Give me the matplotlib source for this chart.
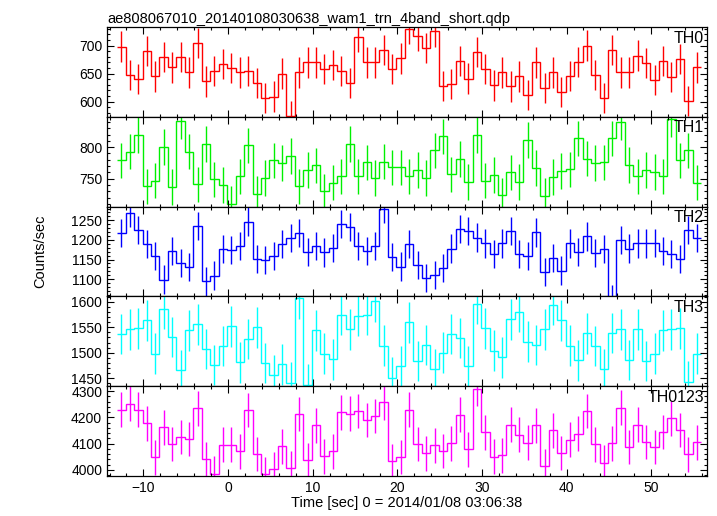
import numpy as np
import matplotlib
matplotlib.use('Agg')
import matplotlib.pyplot as plt
from matplotlib.ticker import MultipleLocator

plt.rcParams['font.family'] = ['Liberation Sans', 'DejaVu Sans']

# -------------------------------------------------------------------
#  Light curve data (1 s bins)

titleText = 'ae808067010_20140108030638_wam1_trn_4band_short.qdp'
xText = 'Time [sec] 0 = 2014/01/08 03:06:38'
yText = 'Counts/sec'

firstBinCenter = -12.6
binWidth = 1.0

bandNames = ['TH0', 'TH1', 'TH2', 'TH3', 'TH0123']
bandColors = ['#ff0000', '#00f000', '#0000ff', '#00ffff', '#ff00ff']

th0 = [698, 647, 640, 690, 645, 679, 661, 679, 652, 704, 636, 654, 667, 660, 652,
       654, 633, 607, 609, 650, 575, 652, 670, 670, 658, 665, 654, 633, 715, 670,
       670, 692, 658, 677, 729, 717, 695, 725, 628, 632, 672, 641, 688, 658, 629,
       652, 627, 645, 612, 670, 624, 652, 617, 646, 671, 700, 648, 606, 692, 652,
       652, 682, 669, 638, 673, 644, 676, 601, 661]
th1 = [779, 793, 819, 738, 747, 800, 737, 841, 793, 741, 805, 749, 740, 710, 754,
       803, 726, 751, 779, 775, 786, 738, 764, 771, 730, 744, 754, 805, 754, 776,
       751, 777, 768, 768, 754, 764, 751, 795, 817, 757, 781, 745, 819, 747, 756,
       724, 760, 745, 811, 767, 723, 753, 762, 765, 814, 782, 775, 776, 814, 840,
       772, 754, 764, 761, 754, 844, 779, 795, 744]
th2 = [1218, 1269, 1226, 1190, 1159, 1099, 1172, 1141, 1130, 1236, 1094, 1109, 1177,
       1174, 1185, 1247, 1151, 1148, 1160, 1190, 1205, 1218, 1169, 1185, 1168, 1179,
       1241, 1233, 1185, 1172, 1185, 1279, 1157, 1132, 1190, 1136, 1103, 1110, 1129,
       1178, 1228, 1222, 1206, 1191, 1165, 1191, 1223, 1165, 1160, 1219, 1118, 1153,
       1122, 1191, 1170, 1209, 1166, 1176, 1050, 1200, 1178, 1191, 1191, 1193, 1172,
       1164, 1151, 1225, 1205]
th3 = [1537, 1546, 1548, 1564, 1498, 1586, 1531, 1465, 1544, 1556, 1507, 1476, 1513,
       1552, 1481, 1527, 1550, 1480, 1456, 1477, 1441, 1607, 1437, 1544, 1498, 1487,
       1574, 1546, 1573, 1575, 1601, 1514, 1451, 1473, 1560, 1484, 1515, 1467, 1500,
       1537, 1529, 1473, 1597, 1548, 1504, 1491, 1566, 1581, 1522, 1515, 1546, 1595,
       1564, 1514, 1485, 1538, 1513, 1467, 1539, 1546, 1486, 1546, 1484, 1498, 1544,
       1546, 1548, 1443, 1498]
th0123 = [4230, 4253, 4230, 4178, 4048, 4162, 4099, 4125, 4118, 4235, 4040, 3986,
          4096, 4096, 4071, 4228, 4061, 3985, 4002, 4090, 4008, 4213, 4038, 4170,
          4052, 4071, 4219, 4215, 4225, 4190, 4205, 4258, 4034, 4049, 4230, 4099,
          4063, 4094, 4072, 4102, 4210, 4078, 4308, 4143, 4051, 4056, 4173, 4135,
          4104, 4170, 4014, 4151, 4064, 4116, 4138, 4225, 4097, 4028, 4101, 4237,
          4087, 4173, 4106, 4087, 4144, 4196, 4152, 4060, 4105]

# typical error bar half length in each band (counts/sec)
bandErrors = [27, 28, 36, 40, 66]

yLimits = [(573, 733), (706, 848), (1056, 1285), (1434, 1611), (3977, 4319)]
yMajor = [50, 50, 50, 50, 100]
yMinor = [10, 10, 10, 10, 20]

allBands = [th0, th1, th2, th3, th0123]

# -------------------------------------------------------------------
#  Plotting

fig = plt.figure(figsize=(7.17, 5.16), dpi=100)

axLeft = 107 / 717
axRight = 707 / 717
axTop = 1 - 27 / 516
axBottom = 1 - 476 / 516
panelHeight = (axTop - axBottom) / len(allBands)

axes = []
for i in range(len(allBands)):
    bottom = axTop - (i + 1) * panelHeight
    if i == 0:
        ax = fig.add_axes([axLeft, bottom, axRight - axLeft, panelHeight])
    else:
        ax = fig.add_axes([axLeft, bottom, axRight - axLeft, panelHeight], sharex=axes[0])
    axes.append(ax)

    rate = np.array(allBands[i], dtype=float)
    nBins = len(rate)
    centers = firstBinCenter + binWidth * np.arange(nBins)
    edges = firstBinCenter - binWidth / 2 + binWidth * np.arange(nBins + 1)
    err = np.full(nBins, bandErrors[i], dtype=float)

    ax.stairs(rate, edges, baseline=None, color=bandColors[i], linewidth=1.0)
    ax.errorbar(centers, rate, yerr=err, fmt='none', ecolor=bandColors[i],
                elinewidth=1.0, capsize=0)

    ax.set_xlim(-14.3, 56.6)
    ax.set_ylim(yLimits[i])
    ax.yaxis.set_major_locator(MultipleLocator(yMajor[i]))
    ax.yaxis.set_minor_locator(MultipleLocator(yMinor[i]))
    ax.xaxis.set_major_locator(MultipleLocator(10))
    ax.xaxis.set_minor_locator(MultipleLocator(2))
    ax.tick_params(which='both', direction='in', top=True, right=True,
                   labelsize=10, width=0.8)
    ax.tick_params(which='major', length=5)
    ax.tick_params(which='minor', length=2.5)
    for sp in ax.spines.values():
        sp.set_linewidth(0.9)
    if i < len(allBands) - 1:
        ax.tick_params(labelbottom=False)

    ax.text(0.995, 0.96, bandNames[i], transform=ax.transAxes, ha='right', va='top',
            fontsize=11.5)

axes[0].set_title(titleText, loc='left', fontsize=10.5, pad=3)
axes[-1].set_xlabel(xText, fontsize=10.5, labelpad=1)
fig.text(40 / 717, 0.5 * (axTop + axBottom), yText, rotation=90, ha='center',
         va='center', fontsize=10.5)

plt.savefig('out.png', dpi=100)
